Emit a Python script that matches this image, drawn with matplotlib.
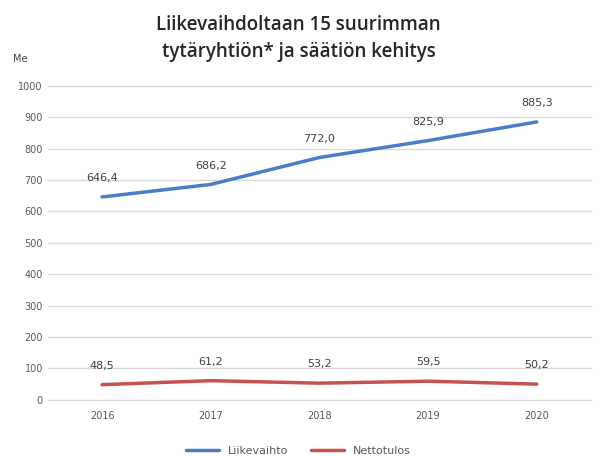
import matplotlib.pyplot as plt

years = ["2016", "2017", "2018", "2019", "2020"]
liikevaihto = [646.4, 686.2, 772.0, 825.9, 885.3]
nettotulos = [48.5, 61.2, 53.2, 59.5, 50.2]
yticks = [0, 100, 200, 300, 400, 500, 600, 700, 800, 900, 1000]


def fmt(v):
    return f"{v:.1f}".replace(".", ",")


fig = plt.figure(figsize=(5.97, 4.57), dpi=100)
ax = fig.add_axes([0.08, 0.125, 0.91, 0.687])

x = range(len(years))
ax.plot(x, liikevaihto, color="#4a7ec4", lw=2.5, label="Liikevaihto", solid_capstyle="round")
ax.plot(x, nettotulos, color="#c9504d", lw=2.5, label="Nettotulos", solid_capstyle="round")

for i, v in enumerate(liikevaihto):
    ax.annotate(fmt(v), (i, v), xytext=(0, 10), textcoords="offset points",
                ha="center", va="bottom", fontsize=8, color="#404040")
for i, v in enumerate(nettotulos):
    ax.annotate(fmt(v), (i, v), xytext=(0, 10), textcoords="offset points",
                ha="center", va="bottom", fontsize=8, color="#404040")

ax.set_xlim(-0.5, len(years) - 0.5)
ax.set_ylim(0, 1000)
ax.set_yticks(yticks)
ax.set_xticks(list(x))
ax.set_xticklabels(years)
ax.tick_params(axis="both", length=0, labelsize=7, colors="#595959")
ax.tick_params(axis="x", pad=8)
ax.grid(axis="y", color="#d9d9d9", lw=1)
for gl in ax.get_ygridlines():
    gl.set_clip_on(False)
ax.set_axisbelow(True)
for s in ax.spines.values():
    s.set_visible(False)

fig.text(0.5, 0.915, "Liikevaihdoltaan 15 suurimman\ntytäryhtiön* ja säätiön kehitys",
         ha="center", va="center", fontsize=13.5, color="#262626", linespacing=1.45,
         family="Open Sans", weight="semibold")
fig.text(0.022, 0.865, "Me", fontsize=7, color="#404040")

fig.legend(loc="lower center", bbox_to_anchor=(0.5, -0.02), ncol=2, frameon=False,
           fontsize=8, handlelength=3, columnspacing=2, labelcolor="#595959")

fig.savefig("out.png", dpi=100)
